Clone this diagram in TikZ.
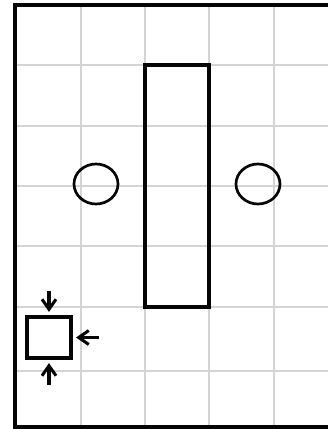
\documentclass[tikz,border=0pt]{standalone}
\usepackage{xcolor}
\usepackage{tikz}
\usetikzlibrary{arrows.meta,positioning}
\definecolor{gridGray}{RGB}{212,212,212}
\definecolor{inkplan}{RGB}{5,5,5}
\tikzset{
  push/.style={inkplan,line width=2.6pt,-{Straight Barb[length=3mm,width=4.2mm,line width=2.6pt]},shorten >=1mm},
}

\begin{document}
\begin{tikzpicture}[x=0.03cm,y=-0.03cm]
  \useasboundingbox (0,0) rectangle (328,429);
  \fill[white] (0,0) rectangle (328,429);
  % ---- grid
  \foreach \gx in {81,145,209,274}
    \draw[gridGray,line width=0.9pt] (\gx,5) -- (\gx,427);
  \foreach \gy in {65,126,186,246,307,371}
    \draw[gridGray,line width=0.9pt] (15,\gy) -- (328,\gy);
  % ---- frame (open to the right)
  \draw[inkplan,line width=2.8pt] (328,5) -- (15,5) -- (15,427) -- (328,427);
  % ---- wall and columns
  \draw[inkplan,line width=3pt] (145,65) rectangle (209,307);
  \draw[inkplan,line width=2.3pt] (96,184) ellipse (22 and 20);
  \draw[inkplan,line width=2.3pt] (258,184) ellipse (22 and 20);
  % ---- loaded block
  \node[draw=inkplan,line width=3pt,minimum width=1.32cm,minimum height=1.23cm,inner sep=0pt]
      (load) at (49,337.5) {};
  \coordinate[above=0.72cm of load.north] (ptop);
  \coordinate[below=0.75cm of load.south] (pbot);
  \coordinate[right=0.78cm of load.east] (pside);
  \draw[push] (ptop) -- (load.north);
  \draw[push] (pbot) -- (load.south);
  \draw[push] (pside) -- (load.east);
\end{tikzpicture}
\end{document}
